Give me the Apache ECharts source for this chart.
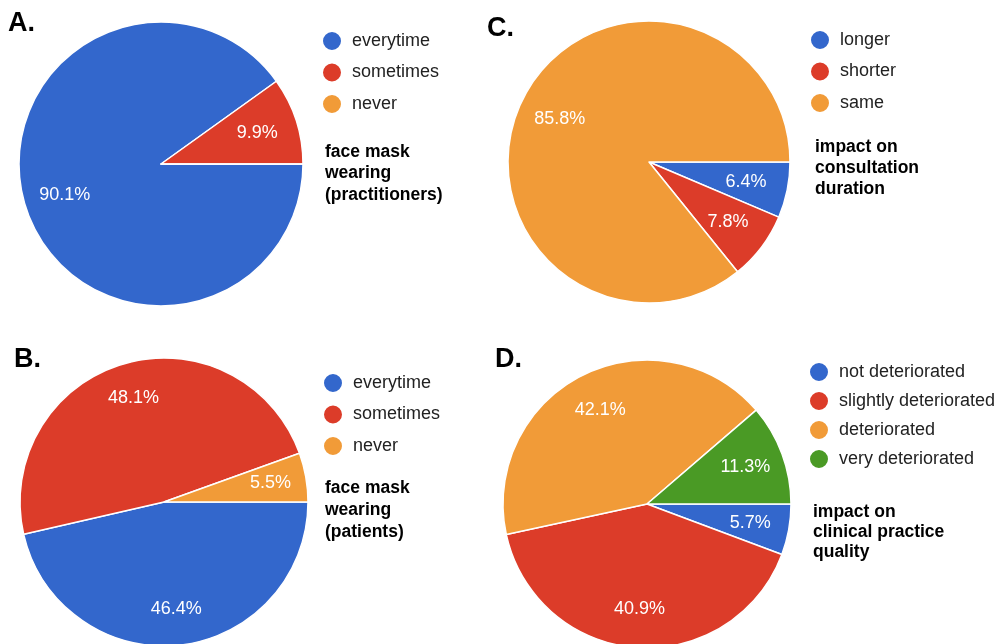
<!DOCTYPE html>
<html>
<head>
<meta charset="utf-8">
<script src="https://cdn.jsdelivr.net/npm/echarts@6/dist/echarts.min.js"></script>
<style>
  html, body { margin: 0; padding: 0; background: #fff; }
  #chart { width: 995px; height: 644px; }
</style>
</head>
<body>
<div id="chart"></div>
<script>
// Survey answers, in percent of respondents
const maskPractNames = ['everytime', 'sometimes', 'never'];
const maskPractValues = [90.1, 9.9, 0];

const maskPatientNames = ['everytime', 'sometimes', 'never'];
const maskPatientValues = [46.4, 48.1, 5.5];

const durationNames = ['longer', 'shorter', 'same'];
const durationValues = [6.4, 7.8, 85.8];

const qualityNames = ['not deteriorated', 'slightly deteriorated', 'deteriorated', 'very deteriorated'];
const qualityValues = [5.7, 40.9, 42.1, 11.3];

const panelLetters = ['A.', 'B.', 'C.', 'D.'];
const panelTitles = [
  'face mask\nwearing\n(practitioners)',
  'face mask\nwearing\n(patients)',
  'impact on\nconsultation\nduration',
  'impact on\nclinical practice\nquality'
];

const BLUE = '#3367cc', RED = '#dc3c29', ORANGE = '#f19b38', GREEN = '#4a9a25';
const palette3 = [BLUE, RED, ORANGE];
const palette4 = [BLUE, RED, ORANGE, GREEN];

const FONT = 'Liberation Sans, Arial, Helvetica, sans-serif';

function toData(names, values, colors) {
  return names.map((n, i) => ({ name: n, value: values[i], itemStyle: { color: colors[i] } }));
}

// Solid pie + transparent ring that carries the percentage labels a bit further out
function pieSeries(names, values, colors, center, r, labelR0) {
  return [
    {
      type: 'pie',
      center: center,
      radius: [0, r],
      startAngle: 0,
      clockwise: true,
      silent: true,
      avoidLabelOverlap: false,
      label: { show: false },
      labelLine: { show: false },
      itemStyle: { borderColor: '#ffffff', borderWidth: 1.5 },
      emphasis: { disabled: true },
      data: toData(names, values, colors)
    },
    {
      type: 'pie',
      center: center,
      radius: [labelR0, r],
      startAngle: 0,
      clockwise: true,
      silent: true,
      avoidLabelOverlap: false,
      itemStyle: { color: 'rgba(0,0,0,0)', borderWidth: 0 },
      label: {
        show: true,
        position: 'inside',
        color: '#ffffff',
        fontFamily: FONT,
        fontSize: 18,
        formatter: p => (p.value > 0 ? p.value.toFixed(1) + '%' : '')
      },
      labelLine: { show: false },
      emphasis: { disabled: true },
      data: names.map((n, i) => ({ name: n, value: values[i] }))
    }
  ];
}

function legendFor(names, left, top, gap) {
  return {
    orient: 'vertical',
    left: left,
    top: top,
    padding: 0,
    icon: 'circle',
    itemWidth: 30,
    itemHeight: 20,
    itemGap: gap,
    selectedMode: false,
    data: names,
    textStyle: { fontFamily: FONT, fontSize: 18, color: '#222222', lineHeight: 20 }
  };
}

function titleAt(text, left, top, size, lh) {
  return {
    text: text,
    left: left,
    top: top,
    padding: 0,
    textStyle: { fontFamily: FONT, fontSize: size, fontWeight: 'bold', color: '#000000', lineHeight: lh }
  };
}

const option = {
  backgroundColor: '#ffffff',
  animation: false,
  title: [
    titleAt(panelLetters[0], 8, 9, 27, 30),
    titleAt(panelLetters[1], 14, 345, 27, 30),
    titleAt(panelLetters[2], 487, 14, 27, 30),
    titleAt(panelLetters[3], 495, 345, 27, 30),
    titleAt(panelTitles[0], 325, 141, 17.5, 21.5),
    titleAt(panelTitles[1], 325, 477, 17.5, 22),
    titleAt(panelTitles[2], 815, 137, 17.5, 21),
    titleAt(panelTitles[3], 813, 502, 17.5, 20)
  ],
  legend: [
    legendFor(maskPractNames, 321, 30, 9.5),
    legendFor(maskPatientNames, 322, 372, 9.5),
    legendFor(durationNames, 809, 29, 9.5),
    legendFor(qualityNames, 808, 361, 7)
  ],
  series: [
    ...pieSeries(maskPractNames, maskPractValues, palette3, [161, 164], 142, 54),
    ...pieSeries(maskPatientNames, maskPatientValues, palette3, [164, 502], 144, 66),
    ...pieSeries(durationNames, durationValues, palette3, [649, 162], 141, 51),
    ...pieSeries(qualityNames, qualityValues, palette4, [647, 504], 144, 60)
  ]
};

const chart = echarts.init(document.getElementById('chart'), null, { renderer: 'canvas' });
chart.setOption(option);
</script>
</body>
</html>
